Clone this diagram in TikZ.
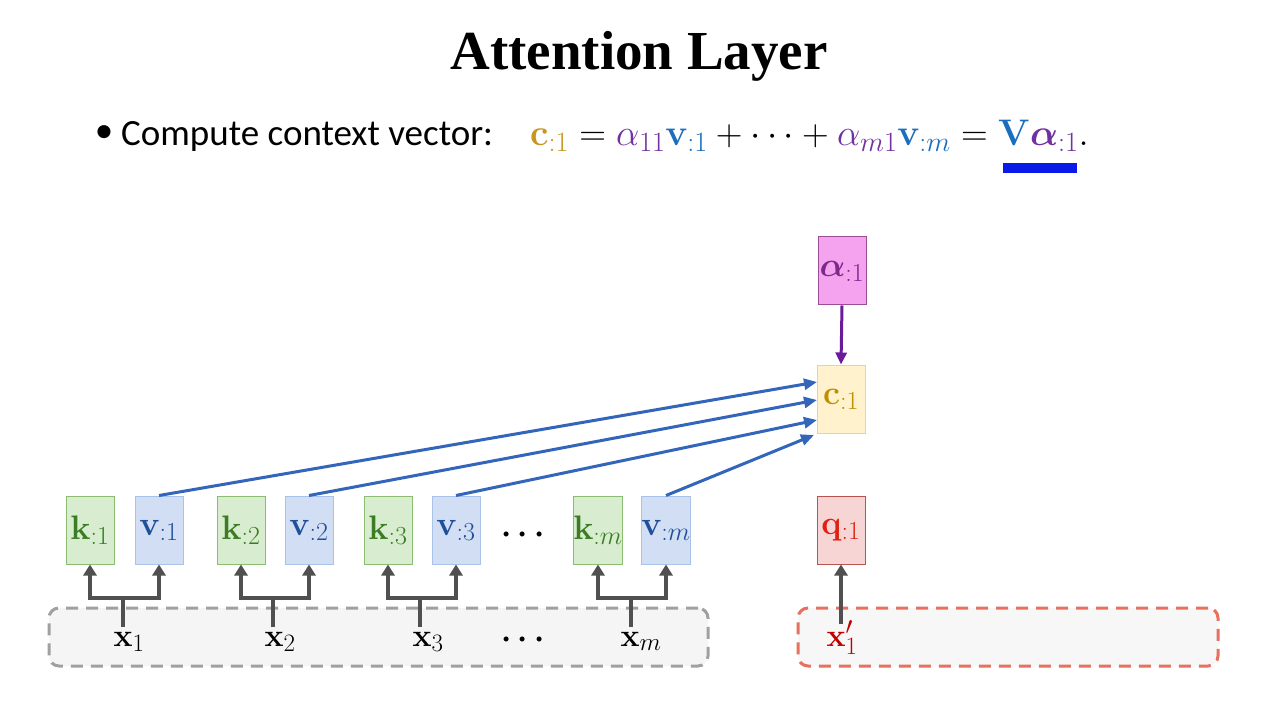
\RequirePackage{fix-cm}
\documentclass[tikz,border=0pt]{standalone}
\usepackage{amsmath,bm}
\usepackage[no-math]{fontspec}
\newfontfamily\calibri{Carlito}
\newfontfamily\titlefont{Liberation Serif}
\usetikzlibrary{arrows.meta}
\DeclareMathSizes{37}{37}{28}{21}
\DeclareMathSizes{34}{34}{26}{20}
\DeclareMathSizes{32}{32}{25}{19}
\definecolor{kfill}{HTML}{D8ECCF}
\definecolor{kdraw}{HTML}{8CBB72}
\definecolor{ktext}{HTML}{3B7D23}
\definecolor{vfill}{HTML}{D1DEF4}
\definecolor{vdraw}{HTML}{A9C2EA}
\definecolor{vtext}{HTML}{1F4E9A}
\definecolor{afill}{HTML}{F5A3EE}
\definecolor{adraw}{HTML}{9B4E98}
\definecolor{atext}{HTML}{7B2A8C}
\definecolor{cfill}{HTML}{FFF2CC}
\definecolor{cdraw}{HTML}{F2D675}
\definecolor{ctext}{HTML}{BF8F00}
\definecolor{qfill}{HTML}{F8D5D5}
\definecolor{qdraw}{HTML}{B85450}
\definecolor{qtext}{HTML}{E02010}
\definecolor{xred}{HTML}{C00000}
\definecolor{barrowc}{HTML}{3366BB}
\definecolor{parrowc}{HTML}{6A1B9A}
\definecolor{gline}{HTML}{505050}
\definecolor{gdashc}{HTML}{A0A0A0}
\definecolor{rdashc}{HTML}{E8705F}
\definecolor{fgold}{HTML}{C8961E}
\definecolor{fpurple}{HTML}{7030A0}
\definecolor{fblue}{HTML}{1A6EBD}
\definecolor{ublue}{HTML}{0A1AE8}
\begin{document}
\begin{tikzpicture}[x=1pt,y=-1pt,
  box/.style={draw, line width=1pt, minimum width=48pt, minimum height=68pt, inner sep=0pt, font=\fontsize{34}{36}\selectfont},
  kbox/.style={box, fill=kfill, draw=kdraw, text=ktext},
  vbox/.style={box, fill=vfill, draw=vdraw, text=vtext},
  abox/.style={box, fill=afill, draw=adraw, text=atext},
  cbox/.style={box, fill=cfill, draw=cdraw, text=ctext},
  qbox/.style={box, fill=qfill, draw=qdraw, text=qtext},
  xlab/.style={inner sep=0pt, font=\fontsize{32}{35}\selectfont},
  inbox/.style={rounded corners=10pt, line width=3pt, dash pattern=on 12pt off 8pt, minimum height=58pt, inner sep=0pt},
  fork/.style={draw=gline, line width=4pt},
  forkarrow/.style={fork, -{Triangle[length=11pt,width=13pt]}},
  blarrow/.style={draw=barrowc, line width=3pt, -{Triangle[length=13pt,width=11pt]}},
  purarrow/.style={draw=parrowc, line width=3pt, -{Triangle[length=12pt,width=11pt]}}
]
\useasboundingbox (0,0) rectangle (1280,719);
\fill[white] (0,0) rectangle (1280,719);

% title and formula
\node[anchor=base, font=\titlefont\bfseries\fontsize{55}{60}\selectfont] (title) at (639,70) {Attention Layer};
\node[font=\calibri\fontsize{37}{40}\selectfont, inner sep=0pt] (bullet) at (104,134) {•};
\node[anchor=base west, font=\calibri\fontsize{37}{40}\selectfont, inner sep=0pt] (bullettext) at (121,146) {Compute context vector:};
\node[anchor=base west, inner sep=0pt, font=\fontsize{37}{42}\selectfont] (formula) at (530,146)
  {$\color{fgold}\mathbf{c}_{:1} \color{black}= {\color{fpurple}\alpha_{11}}{\color{fblue}\mathbf{v}_{:1}} + \cdots + {\color{fpurple}\alpha_{m1}}{\color{fblue}\mathbf{v}_{:m}} = {\color{fblue}\mathbf{V}}{\color{fpurple}\bm{\alpha}_{:1}}.$};
\fill[ublue] (1003,163) rectangle (1077,173);

% input boxes
\node[inbox, draw=gdashc, fill=black!4, minimum width=659pt] (xbox) at (378.5,637) {};
\node[inbox, draw=rdashc, fill=black!3, minimum width=420pt] (xqbox) at (1008,637) {};

% key / value boxes
\node[kbox] (k1) at (90,530) {$\mathbf{k}_{:1}$};
\node[vbox] (v1) at (159,530) {$\mathbf{v}_{:1}$};
\node[kbox] (k2) at (241,530) {$\mathbf{k}_{:2}$};
\node[vbox] (v2) at (309,530) {$\mathbf{v}_{:2}$};
\node[kbox] (k3) at (388,530) {$\mathbf{k}_{:3}$};
\node[vbox] (v3) at (456,530) {$\mathbf{v}_{:3}$};
\node[kbox] (km) at (598,530) {$\mathbf{k}_{:m}$};
\node[vbox] (vm) at (666,530) {$\mathbf{v}_{:m}$};
\node[xlab] (dots1) at (526,535) {$\boldsymbol{\cdots}$};

\node[abox] (alpha) at (842,271) {$\bm{\alpha}_{:1}$};
\node[cbox] (c) at (841,399) {$\mathbf{c}_{:1}$};
\node[qbox] (q) at (841,530) {$\mathbf{q}_{:1}$};

% x labels
\node[xlab, anchor=base] (x1) at (129,646) {$\mathbf{x}_1$};
\node[xlab, anchor=base] (x2) at (280,646) {$\mathbf{x}_2$};
\node[xlab, anchor=base] (x3) at (428,646) {$\mathbf{x}_3$};
\node[xlab] (dots2) at (526,640) {$\boldsymbol{\cdots}$};
\node[xlab, anchor=base] (xm) at (641,646) {$\mathbf{x}_m$};
\node[xlab, anchor=base, text=xred] (xq) at (842,646) {$\mathbf{x}'_1$};

% forks
\coordinate (s1) at (123,627); \coordinate (j1) at (123,598);
\coordinate (s2) at (273,627); \coordinate (j2) at (273,598);
\coordinate (s3) at (420,627); \coordinate (j3) at (420,598);
\coordinate (sm) at (631,627); \coordinate (jm) at (631,598);
\coordinate (sq) at (841,624);
\foreach \i in {1,2,3,m}{
  \draw[fork] (s\i) -- (j\i);
  \draw[forkarrow] (j\i) -| (k\i.south);
  \draw[forkarrow] (j\i) -| (v\i.south);
}
\draw[forkarrow] (sq) -- (q.south);

% value -> context arrows
\coordinate (e1) at (817,382);
\coordinate (e2) at (817,400);
\coordinate (e3) at (817,420);
\coordinate (em) at (814,435);
\draw[blarrow] (v1.north) -- (e1);
\draw[blarrow] (v2.north) -- (e2);
\draw[blarrow] (v3.north) -- (e3);
\draw[blarrow] (vm.north) -- (em);
\draw[purarrow] (alpha.south) -- (c.north);
\end{tikzpicture}
\end{document}
